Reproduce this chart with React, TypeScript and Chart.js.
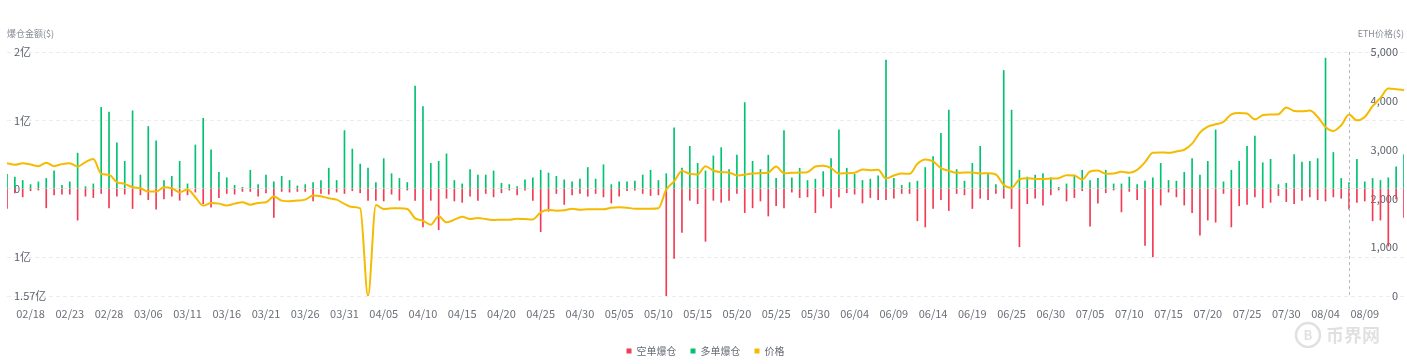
import React, { useEffect, useRef } from 'react';
import { Chart, registerables } from 'chart.js';

Chart.register(...registerables);

// Category labels (daily, two days absent in the source feed)
const DATES = [
  '02/15','02/16','02/17','02/18','02/19','02/20','02/21','02/22','02/23','02/24','02/25','02/26','02/27','02/28',
  '03/01','03/02','03/04','03/05','03/06','03/07','03/08','03/09','03/10','03/11','03/12','03/13','03/14','03/15',
  '03/16','03/17','03/18','03/19','03/20','03/21','03/22','03/23','03/24','03/25','03/26','03/27','03/28','03/29',
  '03/30','03/31',
  '04/01','04/02','04/03','04/04','04/05','04/06','04/07','04/08','04/09','04/10','04/11','04/12','04/13','04/14',
  '04/15','04/16','04/17','04/18','04/19','04/20','04/21','04/22','04/23','04/24','04/25','04/26','04/27','04/28',
  '04/29','04/30',
  '05/01','05/02','05/03','05/04','05/05','05/06','05/07','05/08','05/09','05/10','05/11','05/12','05/13','05/14',
  '05/15','05/16','05/17','05/18','05/19','05/20','05/21','05/22','05/23','05/24','05/25','05/26','05/27','05/28',
  '05/29','05/30','05/31',
  '06/01','06/02','06/03','06/04','06/05','06/06','06/07','06/08','06/09','06/10','06/11','06/12','06/13','06/14',
  '06/15','06/16','06/17','06/18','06/19','06/20','06/21','06/23','06/24','06/25','06/26','06/27','06/28','06/29',
  '06/30',
  '07/01','07/02','07/03','07/04','07/05','07/06','07/07','07/08','07/09','07/10','07/11','07/12','07/13','07/14',
  '07/15','07/16','07/17','07/18','07/19','07/20','07/21','07/22','07/23','07/24','07/25','07/26','07/27','07/28',
  '07/29','07/30','07/31',
  '08/01','08/02','08/03','08/04','08/05','08/06','08/07','08/08','08/09','08/10','08/11','08/12','08/13','08/14',
];

// 多单爆仓 (long liquidations), USD millions
const LONG_LIQ_M = [
  21, 17, 12, 6, 10, 15, 26, 5, 10, 52, 3, 7, 119, 112, 67, 40, 114, 20, 91, 70,
  12, 18, 40, 7, 64, 103, 57, 24, 16, 5, 2, 27, 6, 20, 10, 18, 12, 4, 6, 9,
  12, 30, 12, 85, 58, 36, 30, 9, 44, 22, 15, 9, 150, 120, 37, 40, 51, 12, 7, 28,
  20, 20, 26, 8, 6, 3, 13, 16, 27, 23, 18, 13, 10, 14, 31, 14, 35, 6, 10, 10,
  11, 20, 27, 12, 22, 89, 30, 62, 37, 26, 48, 60, 28, 49, 126, 40, 28, 49, 15, 85,
  16, 30, 12, 14, 25, 44, 86, 30, 21, 12, 14, 19, 188, 15, 5, 9, 11, 31, 47, 81,
  115, 28, 11, 37, 62, 22, 6, 173, 115, 27, 17, 20, 22, 16, 2, 7, 20, 27, 12, 15,
  27, 7, 7, 17, 6, 11, 16, 37, 12, 11, 24, 44, 20, 40, 86, 10, 27, 40, 62, 77,
  38, 43, 6, 8, 50, 39, 40, 44, 191, 53, 15, 9, 43, 10, 15, 12, 16, 32, 50,
];

// 空单爆仓 (short liquidations, drawn downward), USD millions
const SHORT_LIQ_M = [
  -29, -6, -12, -3, -2, -28, -9, -8, -8, -46, -11, -13, -7, -28, -11, -8, -29, -9, -16, -30,
  -15, -11, -17, -9, -5, -22, -27, -13, -7, -8, -4, -4, -11, -6, -42, -4, -5, -4, -4, -18,
  -7, -8, -5, -7, -3, -6, -17, -17, -18, -8, -17, -2, -17, -56, -17, -60, -14, -18, -20, -11,
  -17, -7, -12, -6, -2, -9, -2, -17, -63, -33, -7, -23, -9, -7, -11, -7, -12, -21, -11, -3,
  -2, -7, -10, -9, -157, -102, -64, -17, -22, -77, -17, -20, -17, -7, -35, -28, -18, -40, -25, -28,
  -5, -13, -12, -35, -11, -28, -12, -6, -8, -21, -13, -16, -16, -14, -7, -7, -47, -56, -29, -16,
  -32, -7, -9, -29, -14, -16, -7, -14, -29, -85, -22, -14, -24, -9, -2, -18, -13, -3, -55, -21,
  -6, -2, -34, -4, -16, -83, -100, -24, -5, -12, -24, -35, -68, -46, -49, -7, -56, -25, -23, -12,
  -28, -20, -10, -19, -22, -17, -12, -16, -18, -12, -14, -30, -20, -18, -47, -46, -84, -15, -42,
];

// ETH价格 (USD)
const ETH_PRICE = [
  2722, 2689, 2722, 2695, 2661, 2730, 2661, 2702, 2722, 2654, 2743, 2805, 2504, 2483, 2332, 2298, 2229, 2209, 2140, 2140,
  2229, 2209, 2126, 2181, 2024, 1852, 1907, 1893, 1852, 1893, 1920, 1872, 1907, 1920, 2037, 1955, 1941, 1955, 1975, 2058,
  2044, 2003, 1975, 1886, 1824, 1797, 0, 1865, 1783, 1797, 1797, 1783, 1591, 1543, 1461, 1632, 1509, 1564, 1625, 1577,
  1598, 1577, 1557, 1564, 1564, 1584, 1577, 1570, 1715, 1762, 1749, 1755, 1790, 1769, 1776, 1776, 1776, 1810, 1817, 1810,
  1790, 1790, 1790, 1800, 2180, 2350, 2560, 2504, 2490, 2661, 2572, 2538, 2531, 2469, 2490, 2510, 2517, 2531, 2654, 2517,
  2524, 2531, 2538, 2654, 2668, 2620, 2510, 2517, 2524, 2592, 2579, 2586, 2407, 2469, 2510, 2504, 2709, 2798, 2757, 2620,
  2565, 2524, 2531, 2531, 2510, 2517, 2490, 2277, 2215, 2390, 2414, 2400, 2400, 2407, 2414, 2476, 2469, 2387, 2551, 2572,
  2504, 2510, 2545, 2524, 2586, 2743, 2935, 2942, 2935, 2963, 2997, 3121, 3347, 3470, 3519, 3567, 3724, 3752, 3738, 3621,
  3703, 3717, 3724, 3861, 3793, 3786, 3800, 3669, 3464, 3381, 3498, 3717, 3600, 3669, 3889, 4060, 4252, 4239, 4218,
];

const LEFT_TICKS = [-157, -100, 0, 100, 200];
const HOVER_INDEX = 171;

const FONT = '"Noto Sans CJK SC", "Noto Sans", sans-serif';

export default function App() {
  const ref = useRef<HTMLCanvasElement>(null);

  useEffect(() => {
    document.body.style.margin = '0';
    Chart.defaults.font.family = FONT;

    const overlay = {
      id: 'overlay',
      afterDatasetsDraw(chart: any) {
        const { ctx, chartArea, scales } = chart;
        const x = scales.x.getPixelForValue(HOVER_INDEX);
        ctx.save();
        ctx.strokeStyle = '#b5b8bf';
        ctx.lineWidth = 1;
        ctx.setLineDash([3, 3]);
        ctx.beginPath();
        ctx.moveTo(Math.round(x) + 0.5, chartArea.top);
        ctx.lineTo(Math.round(x) + 0.5, chartArea.bottom);
        ctx.stroke();
        ctx.restore();
      },
      afterDraw(chart: any) {
        const { ctx, chartArea } = chart;
        ctx.save();
        ctx.font = `9px ${FONT}`;
        ctx.fillStyle = '#858a94';
        ctx.textBaseline = 'middle';
        ctx.textAlign = 'left';
        ctx.fillText('爆仓金额($)', 7, 34);
        ctx.textAlign = 'right';
        ctx.fillText('ETH价格($)', chartArea.right, 34);
        // faint watermark
        ctx.globalAlpha = 0.12;
        ctx.fillStyle = '#000';
        ctx.strokeStyle = '#000';
        ctx.lineWidth = 2.5;
        ctx.beginPath();
        ctx.arc(1308, 335, 12, 0, Math.PI * 2);
        ctx.stroke();
        ctx.font = `bold 13px ${FONT}`;
        ctx.textAlign = 'center';
        ctx.fillText('B', 1308, 335);
        ctx.font = `bold 18px ${FONT}`;
        ctx.textAlign = 'left';
        ctx.fillText('币界网', 1326, 335);
        ctx.restore();
      },
    };

    const chart = new Chart(ref.current as HTMLCanvasElement, {
      type: 'bar',
      data: {
        labels: DATES,
        datasets: [
          {
            type: 'bar',
            label: '空单爆仓',
            data: SHORT_LIQ_M,
            backgroundColor: '#f23b55',
            borderWidth: 0,
            barThickness: 1,
            stack: 'liq',
            yAxisID: 'y',
            order: 1,
          },
          {
            type: 'bar',
            label: '多单爆仓',
            data: LONG_LIQ_M,
            backgroundColor: '#00c26f',
            borderWidth: 0,
            barThickness: 1,
            stack: 'liq',
            yAxisID: 'y',
            order: 1,
          },
          {
            type: 'line',
            label: '价格',
            data: ETH_PRICE,
            borderColor: '#f5bb00',
            backgroundColor: '#f5bb00',
            borderWidth: 2,
            pointRadius: 0,
            cubicInterpolationMode: 'monotone',
            yAxisID: 'y1',
            order: 0,
          },
        ],
      } as any,
      options: {
        animation: false,
        responsive: true,
        maintainAspectRatio: false,
        events: [],
        layout: { padding: { top: 52, left: 7, right: 3, bottom: 0 } },
        plugins: {
          tooltip: { enabled: false },
          legend: {
            position: 'bottom',
            labels: {
              boxWidth: 5,
              boxHeight: 5,
              padding: 14,
              color: '#666a73',
              font: { size: 10, family: FONT },
              sort: (a: any, b: any) => a.datasetIndex - b.datasetIndex,
              generateLabels: (c: any) =>
                Chart.defaults.plugins.legend.labels
                  .generateLabels(c)
                  .map((it: any) => ({ ...it, lineWidth: 0, strokeStyle: 'rgba(0,0,0,0)' })),
            },
          },
        },
        scales: {
          x: {
            stacked: true,
            offset: false,
            grid: { display: false, drawTicks: true, tickLength: 8 },
            border: { display: false },
            afterFit: (s: any) => {
              s.height = 36;
              s.paddingLeft = 0;
              s.paddingRight = 0;
            },
            ticks: {
              autoSkip: false,
              maxRotation: 0,
              minRotation: 0,
              padding: 3,
              color: '#6b6f78',
              font: { size: 11, family: FONT },
              callback: (_v: any, i: number) => (i % 5 === 3 && i <= 173 ? DATES[i] : ''),
            },
          },
          y: {
            position: 'left',
            stacked: true,
            min: -157,
            max: 200,
            afterBuildTicks: (s: any) => {
              s.ticks = LEFT_TICKS.map((v) => ({ value: v }));
            },
            afterFit: (s: any) => {
              s.width = 0;
            },
            grid: {
              color: '#ececec',
              drawTicks: false,
              lineWidth: 1,
            },
            border: { display: false, dash: [4, 3] },
            ticks: {
              mirror: true,
              padding: 7,
              color: '#5c616b',
              font: { size: 11, family: FONT },
              callback: (v: any) => (v === 0 ? '0' : `${Math.abs(v) / 100}亿`),
            },
          },
          y1: {
            position: 'right',
            min: 0,
            max: 5000,
            afterFit: (s: any) => {
              s.width = 0;
            },
            grid: { display: false, drawTicks: false },
            border: { display: false },
            ticks: {
              mirror: true,
              stepSize: 1000,
              padding: -6,
              color: '#5c616b',
              font: { size: 11, family: FONT },
              callback: (v: any) => Number(v).toLocaleString('en-US'),
            },
          },
        },
      } as any,
      plugins: [overlay],
    });

    return () => chart.destroy();
  }, []);

  return (
    <div style={{ width: 1407, height: 364, overflow: 'hidden', position: 'relative' }}>
      <div style={{ position: 'absolute', left: 0, top: 0, width: 1407, height: 366 }}>
        <canvas ref={ref} />
      </div>
    </div>
  );
}
